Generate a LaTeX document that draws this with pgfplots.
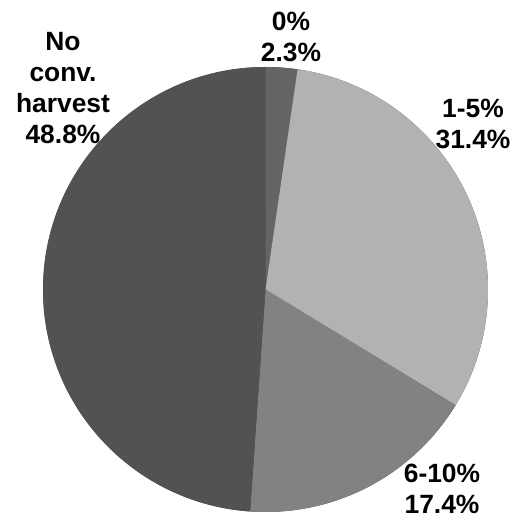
\documentclass[border=0pt]{standalone}
\usepackage{pgfplots}
\pgfplotsset{compat=1.18}
\usepackage{fontspec}
\setmainfont{Liberation Sans}
\definecolor{cA}{HTML}{656565}
\definecolor{cB}{HTML}{B2B2B2}
\definecolor{cC}{HTML}{828282}
\definecolor{cD}{HTML}{525252}
\tikzset{lbl/.style={font=\bfseries\fontsize{26.5}{31}\selectfont, align=center, inner sep=0pt, anchor=north}}
% slice: #1 = cumulative percent before slice, #2 = slice percent, #3 = colour
\newcommand{\slice}[3]{%
  \fill[#3] (axis cs:265.5,233.5) -- ([shift={({90-#1*3.6}:222.5bp)}]axis cs:265.5,233.5)
    arc[start angle={90-#1*3.6}, delta angle={-#2*3.6}, radius=222.5bp] -- cycle;}
\begin{document}
\begin{tikzpicture}
\begin{axis}[
  scale only axis, width=515bp, height=523bp,
  xmin=0, xmax=515, ymin=0, ymax=523,
  enlargelimits=false, hide axis, clip=false,
]
% base disc in the colour of the last slice
\fill[cD] (axis cs:265.5,233.5) circle[radius=222.5bp];
\slice{0}{2.3}{cA}
\slice{2.3}{31.4}{cB}
\slice{33.7}{17.4}{cC}
\slice{51.1}{48.8}{cD}
\node[lbl] at (axis cs:291,511) {0\%\\2.3\%};
\node[lbl] at (axis cs:473,424) {1-5\%\\31.4\%};
\node[lbl] at (axis cs:442,59) {6-10\%\\17.4\%};
\node[lbl] at (axis cs:63,491) {No\\conv.\\harvest\\48.8\%};
\end{axis}
\pgfresetboundingbox
\useasboundingbox (current axis.south west) rectangle (current axis.north east);
\end{tikzpicture}
\end{document}
